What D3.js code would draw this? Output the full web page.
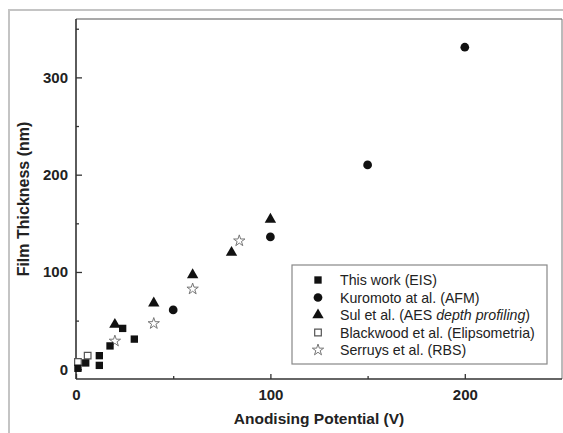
<!DOCTYPE html>
<html>
<head>
<meta charset="utf-8">
<script src="https://cdn.jsdelivr.net/npm/d3@7"></script>
<style>
  html, body { margin: 0; padding: 0; background: #fff; }
  svg { display: block; }
  text { font-family: "Liberation Sans", Arial, sans-serif; }
</style>
</head>
<body>
<div id="chart"></div>
<script>
// ---- Data ----
const thisWorkV = [1, 5, 12, 12, 17.5, 24, 30];
const thisWorkT = [1, 6.5, 14, 4, 24, 42, 31];

const kuromotoV = [50, 100, 150, 200];
const kuromotoT = [61, 136, 210, 331];

const sulV = [20, 40, 60, 80, 100];
const sulT = [46, 68, 97, 120, 154];

const blackwoodV = [1, 6];
const blackwoodT = [7.5, 14];

const serruysV = [20, 40, 60, 84];
const serruysT = [29, 47, 82.5, 132];

const xMajorTicks = [0, 100, 200];
const xMinorTicks = [50, 150];
const yMajorTicks = [0, 100, 200, 300];
const yMinorTicks = [50, 150, 250, 350];

const seriesNames = [
  "This work (EIS)",
  "Kuromoto at al. (AFM)",
  "Sul et al. (AES ",
  "Blackwood et al. (Elipsometria)",
  "Serruys et al. (RBS)"
];

// ---- Layout ----
const W = 563, H = 433;
const svg = d3.select("#chart").append("svg").attr("width", W).attr("height", H);

// outer light frame
svg.append("rect").attr("x", 9).attr("y", 10).attr("width", 700).attr("height", 600)
  .attr("fill", "none").attr("stroke", "#c4c4c4").attr("stroke-width", 2);

const x = d3.scaleLinear().domain([0, 250]).range([76, 562]);
const y = d3.scaleLinear().domain([-10, 360]).range([379, 19]);

// plot frame
svg.append("line").attr("x1", 76).attr("x2", 562).attr("y1", 19).attr("y2", 19)
  .attr("stroke", "#555").attr("stroke-width", 1.2);
svg.append("line").attr("x1", 562).attr("x2", 562).attr("y1", 19).attr("y2", 379)
  .attr("stroke", "#777").attr("stroke-width", 1);

// axes
const yAxis = svg.append("g").attr("transform", "translate(76,0)")
  .call(d3.axisLeft(y).tickValues(yMajorTicks).tickSize(-6).tickSizeOuter(0).tickPadding(8));
const yMinor = svg.append("g").attr("transform", "translate(76,0)")
  .call(d3.axisLeft(y).tickValues(yMinorTicks).tickSize(-3).tickSizeOuter(0).tickFormat(""));
const xAxis = svg.append("g").attr("transform", "translate(0,379)")
  .call(d3.axisBottom(x).tickValues(xMajorTicks).tickSize(-5).tickSizeOuter(0).tickPadding(10));
const xMinor = svg.append("g").attr("transform", "translate(0,379)")
  .call(d3.axisBottom(x).tickValues(xMinorTicks).tickSize(-3).tickSizeOuter(0).tickFormat(""));

[yAxis, yMinor, xAxis, xMinor].forEach(g => {
  g.selectAll(".domain").remove();
  g.selectAll("line").attr("stroke", "#333").attr("stroke-width", 1.3);
  g.selectAll("text").attr("font-size", 15).attr("font-weight", "bold").attr("fill", "#222")
    .attr("font-family", "'Liberation Sans', Arial, sans-serif");
});

// axis lines
svg.append("line").attr("x1", 76).attr("x2", 76).attr("y1", 19).attr("y2", 379)
  .attr("stroke", "#333").attr("stroke-width", 1.6);
svg.append("line").attr("x1", 76).attr("x2", 562).attr("y1", 379).attr("y2", 379)
  .attr("stroke", "#333").attr("stroke-width", 1.6);

// axis titles
svg.append("text").attr("x", 319).attr("y", 423.5).attr("text-anchor", "middle")
  .attr("font-size", 15.5).attr("font-weight", "bold").attr("fill", "#222")
  .text("Anodising Potential (V)");
svg.append("text").attr("transform", "translate(29,199) rotate(-90)").attr("text-anchor", "middle")
  .attr("font-size", 16).attr("font-weight", "bold").attr("fill", "#222")
  .text("Film Thickness (nm)");

// symbols
const sym = {
  square: d3.symbol().type(d3.symbolSquare).size(54),
  circle: d3.symbol().type(d3.symbolCircle).size(60),
  triangle: d3.symbol().type(d3.symbolTriangle).size(56),
  osquare: d3.symbol().type(d3.symbolSquare).size(44),
  star: d3.symbol().type(d3.symbolStar).size(40)
};
const styles = [
  { s: sym.square, fill: "#111", stroke: "none", sw: 0 },
  { s: sym.circle, fill: "#111", stroke: "none", sw: 0 },
  { s: sym.triangle, fill: "#111", stroke: "none", sw: 0 },
  { s: sym.osquare, fill: "#fff", stroke: "#555", sw: 1.2 },
  { s: sym.star, fill: "#fff", stroke: "#777", sw: 1 }
];
const seriesData = [
  d3.zip(thisWorkV, thisWorkT),
  d3.zip(kuromotoV, kuromotoT),
  d3.zip(sulV, sulT),
  d3.zip(blackwoodV, blackwoodT),
  d3.zip(serruysV, serruysT)
];
// draw order: stars, open squares, then filled
const order = [4, 3, 1, 2, 0];
order.forEach(i => {
  const st = styles[i];
  svg.append("g").selectAll("path").data(seriesData[i]).join("path")
    .attr("transform", d => `translate(${x(d[0])},${y(d[1])})`)
    .attr("d", st.s)
    .attr("fill", st.fill).attr("stroke", st.stroke).attr("stroke-width", st.sw);
});

// legend
const lg = svg.append("g");
lg.append("rect").attr("x", 292).attr("y", 265).attr("width", 255).attr("height", 99)
  .attr("fill", "#fff").attr("stroke", "#888").attr("stroke-width", 1.2);
const rowY = d3.scalePoint().domain(d3.range(5)).range([280, 350]);
seriesNames.forEach((name, i) => {
  const st = styles[i];
  const cy = rowY(i);
  lg.append("path").attr("transform", `translate(318,${cy})`).attr("d", st.s)
    .attr("fill", st.fill).attr("stroke", st.stroke).attr("stroke-width", st.sw);
  const t = lg.append("text").attr("x", 340).attr("y", cy + 5)
    .attr("font-size", 14.2).attr("fill", "#222");
  t.append("tspan").text(name);
  if (i === 2) {
    t.append("tspan").attr("font-style", "italic").text("depth profiling");
    t.append("tspan").text(")");
  }
});
</script>
</body>
</html>
